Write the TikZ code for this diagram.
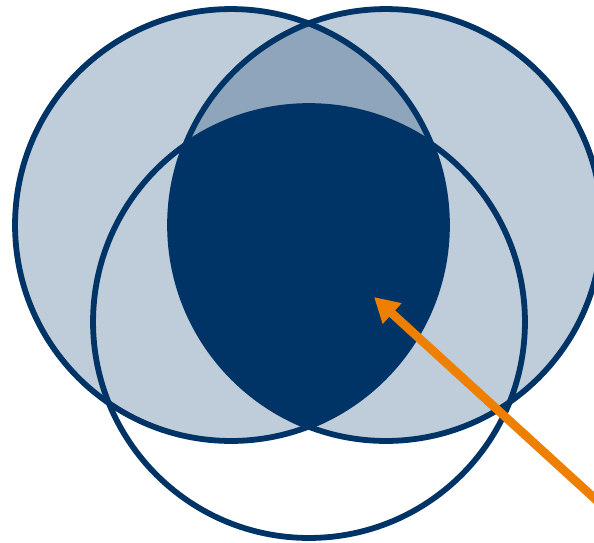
\documentclass[tikz,border=0pt]{standalone}
\usetikzlibrary{arrows.meta}
\definecolor{navy}{RGB}{0,51,102}
\definecolor{orng}{RGB}{238,127,0}
\begin{document}
\begin{tikzpicture}[x=0.02cm, y=-0.02cm, line join=round, line cap=round]
	\useasboundingbox (0,0) rectangle (594,542);
	\coordinate (A) at (231,225); \coordinate (B) at (386,225); \coordinate (C) at (309,322);
	\foreach \c in {A,B}{\fill[navy, fill opacity=0.25] (\c) circle (4.32cm);}
	\foreach \c in {A,B,C}{\draw[navy, line width=3.3pt] (\c) circle (4.32cm);}
	\begin{scope}
		\clip (A) circle (4.32cm); \clip (B) circle (4.32cm);
		\fill[navy] (C) circle (4.32cm);
	\end{scope}
	\coordinate (tail) at (604,507); \coordinate (tip) at (374,297);
	\draw[orng, line width=5pt, line cap=butt, -{Triangle[length=14pt, width=15pt]}] (tail) -- (tip);
\end{tikzpicture}
\end{document}
